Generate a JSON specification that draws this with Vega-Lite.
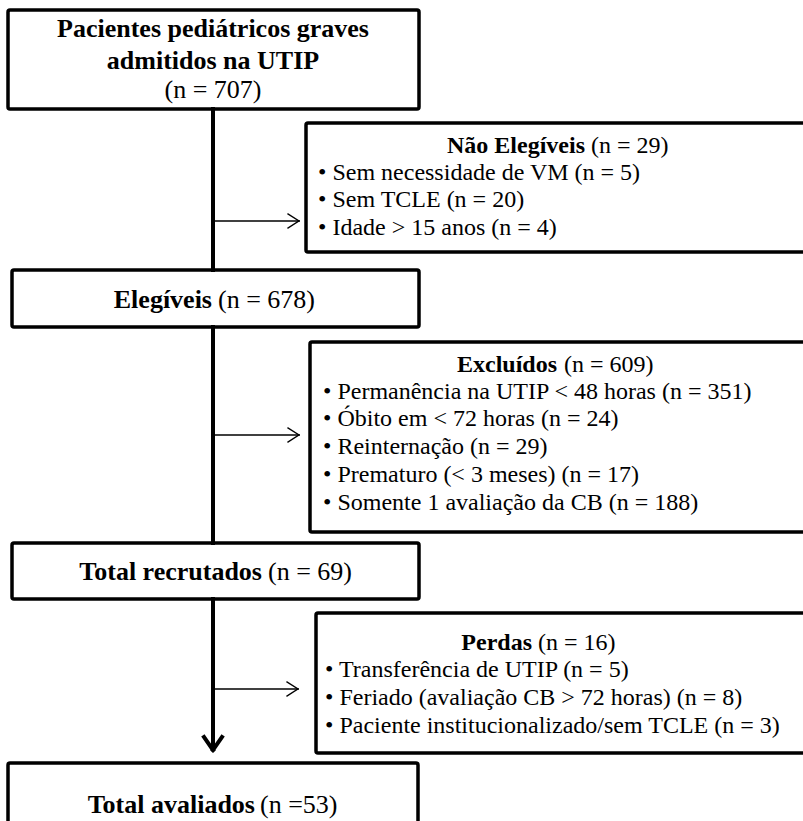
{
  "$schema": "https://vega.github.io/schema/vega-lite/v6.json",
  "width": 803,
  "height": 821,
  "autosize": "none",
  "padding": 0,
  "background": "white",
  "config": {"view": {"stroke": null}},
  "datasets": {
    "boxes": [
      {"box": "Pacientes", "x": 8, "x2": 419, "y": 10, "y2": 109},
      {"box": "Não Elegíveis", "x": 306, "x2": 815, "y": 123, "y2": 252},
      {"box": "Elegíveis", "x": 12, "x2": 419, "y": 270, "y2": 327},
      {"box": "Excluídos", "x": 310, "x2": 815, "y": 342, "y2": 532},
      {"box": "Total recrutados", "x": 12, "x2": 419, "y": 543, "y2": 599},
      {"box": "Perdas", "x": 316, "x2": 815, "y": 613, "y2": 753},
      {"box": "Total avaliados", "x": 8, "x2": 418, "y": 763, "y2": 835}
    ],
    "segments": [
      {"kind": "main", "x": 213, "y": 109, "x2": 213, "y2": 270},
      {"kind": "main", "x": 213, "y": 327, "x2": 213, "y2": 543},
      {"kind": "main", "x": 213, "y": 599, "x2": 213, "y2": 749},
      {"kind": "main", "x": 213, "y": 750, "x2": 204, "y2": 737},
      {"kind": "main", "x": 213, "y": 750, "x2": 222, "y2": 737},
      {"kind": "branch", "x": 213, "y": 221, "x2": 299, "y2": 221},
      {"kind": "branch", "x": 299, "y": 221, "x2": 288, "y2": 214},
      {"kind": "branch", "x": 299, "y": 221, "x2": 288, "y2": 228},
      {"kind": "branch", "x": 213, "y": 435, "x2": 299, "y2": 435},
      {"kind": "branch", "x": 299, "y": 435, "x2": 288, "y2": 428},
      {"kind": "branch", "x": 299, "y": 435, "x2": 288, "y2": 442},
      {"kind": "branch", "x": 213, "y": 689, "x2": 298, "y2": 689},
      {"kind": "branch", "x": 298, "y": 689, "x2": 287, "y2": 682},
      {"kind": "branch", "x": 298, "y": 689, "x2": 287, "y2": 696}
    ],
    "texts": [
      {"role": "title", "side": "main", "text": "Pacientes pediátricos graves", "x": 213, "y": 37},
      {"role": "title", "side": "main", "text": "admitidos na UTIP", "x": 213, "y": 69},
      {"role": "titlecount", "side": "main", "text": "(n = 707)", "x": 213, "y": 98},
      {"role": "head", "side": "side", "text": "Não Elegíveis", "x": 585, "y": 153},
      {"role": "count", "side": "side", "text": "(n = 29)", "x": 591, "y": 153},
      {"role": "item", "side": "side", "text": "• Sem necessidade de VM (n = 5)", "x": 318, "y": 180},
      {"role": "item", "side": "side", "text": "• Sem TCLE (n = 20)", "x": 318, "y": 207},
      {"role": "item", "side": "side", "text": "• Idade > 15 anos (n = 4)", "x": 318, "y": 235},
      {"role": "head", "side": "main", "text": "Elegíveis", "x": 212, "y": 308},
      {"role": "count", "side": "main", "text": "(n = 678)", "x": 218, "y": 308},
      {"role": "head", "side": "side", "text": "Excluídos", "x": 557, "y": 372},
      {"role": "count", "side": "side", "text": "(n = 609)", "x": 564, "y": 372},
      {"role": "item", "side": "side", "text": "• Permanência na UTIP < 48 horas (n = 351)", "x": 323, "y": 399},
      {"role": "item", "side": "side", "text": "• Óbito em < 72 horas (n = 24)", "x": 323, "y": 426},
      {"role": "item", "side": "side", "text": "• Reinternação (n = 29)", "x": 323, "y": 454},
      {"role": "item", "side": "side", "text": "• Prematuro (< 3 meses) (n = 17)", "x": 323, "y": 482},
      {"role": "item", "side": "side", "text": "• Somente 1 avaliação da CB (n = 188)", "x": 323, "y": 510},
      {"role": "head", "side": "main", "text": "Total recrutados", "x": 262, "y": 580},
      {"role": "count", "side": "main", "text": "(n = 69)", "x": 268, "y": 580},
      {"role": "head", "side": "side", "text": "Perdas", "x": 532, "y": 650},
      {"role": "count", "side": "side", "text": "(n = 16)", "x": 538, "y": 650},
      {"role": "item", "side": "side", "text": "• Transferência de UTIP (n = 5)", "x": 325, "y": 677},
      {"role": "item", "side": "side", "text": "• Feriado (avaliação CB > 72 horas) (n = 8)", "x": 325, "y": 705},
      {"role": "item", "side": "side", "text": "• Paciente institucionalizado/sem TCLE (n = 3)", "x": 325, "y": 733},
      {"role": "head", "side": "main", "text": "Total avaliados", "x": 255, "y": 813},
      {"role": "count", "side": "main", "text": "(n =53)", "x": 260, "y": 813}
    ]
  },
  "layer": [
    {
      "data": {"name": "boxes"},
      "mark": {"type": "rect", "fill": "white", "stroke": "black", "strokeWidth": 3.5, "cornerRadius": 2},
      "encoding": {
        "x": {"field": "x", "type": "quantitative", "scale": {"domain": [0, 803], "nice": false, "zero": false}, "axis": null},
        "x2": {"field": "x2"},
        "y": {"field": "y", "type": "quantitative", "scale": {"domain": [0, 821], "nice": false, "zero": false, "reverse": true}, "axis": null},
        "y2": {"field": "y2"}
      }
    },
    {
      "data": {"name": "segments"},
      "mark": {"type": "rule", "color": "black", "strokeCap": "square"},
      "encoding": {
        "x": {"field": "x", "type": "quantitative", "axis": null},
        "x2": {"field": "x2"},
        "y": {"field": "y", "type": "quantitative", "axis": null},
        "y2": {"field": "y2"},
        "strokeWidth": {"field": "kind", "type": "nominal", "scale": {"domain": ["main", "branch"], "range": [4, 1.3]}, "legend": null}
      }
    },
    {
      "data": {"name": "texts"},
      "transform": [{"filter": "datum.role === 'title'"}],
      "mark": {"type": "text", "font": "Liberation Serif", "fontWeight": "bold", "align": "center", "baseline": "alphabetic", "color": "black"},
      "encoding": {
        "x": {"field": "x", "type": "quantitative", "axis": null},
        "y": {"field": "y", "type": "quantitative", "axis": null},
        "text": {"field": "text"},
        "size": {"field": "side", "type": "nominal", "scale": {"domain": ["main", "side"], "range": [26, 24]}, "legend": null}
      }
    },
    {
      "data": {"name": "texts"},
      "transform": [{"filter": "datum.role === 'titlecount'"}],
      "mark": {"type": "text", "font": "Liberation Serif", "align": "center", "baseline": "alphabetic", "color": "black"},
      "encoding": {
        "x": {"field": "x", "type": "quantitative", "axis": null},
        "y": {"field": "y", "type": "quantitative", "axis": null},
        "text": {"field": "text"},
        "size": {"field": "side", "type": "nominal", "scale": {"domain": ["main", "side"], "range": [26, 24]}, "legend": null}
      }
    },
    {
      "data": {"name": "texts"},
      "transform": [{"filter": "datum.role === 'head'"}],
      "mark": {"type": "text", "font": "Liberation Serif", "fontWeight": "bold", "align": "right", "baseline": "alphabetic", "color": "black"},
      "encoding": {
        "x": {"field": "x", "type": "quantitative", "axis": null},
        "y": {"field": "y", "type": "quantitative", "axis": null},
        "text": {"field": "text"},
        "size": {"field": "side", "type": "nominal", "scale": {"domain": ["main", "side"], "range": [26, 24]}, "legend": null}
      }
    },
    {
      "data": {"name": "texts"},
      "transform": [{"filter": "datum.role === 'count' || datum.role === 'item'"}],
      "mark": {"type": "text", "font": "Liberation Serif", "align": "left", "baseline": "alphabetic", "color": "black"},
      "encoding": {
        "x": {"field": "x", "type": "quantitative", "axis": null},
        "y": {"field": "y", "type": "quantitative", "axis": null},
        "text": {"field": "text"},
        "size": {"field": "side", "type": "nominal", "scale": {"domain": ["main", "side"], "range": [26, 24]}, "legend": null}
      }
    }
  ]
}
